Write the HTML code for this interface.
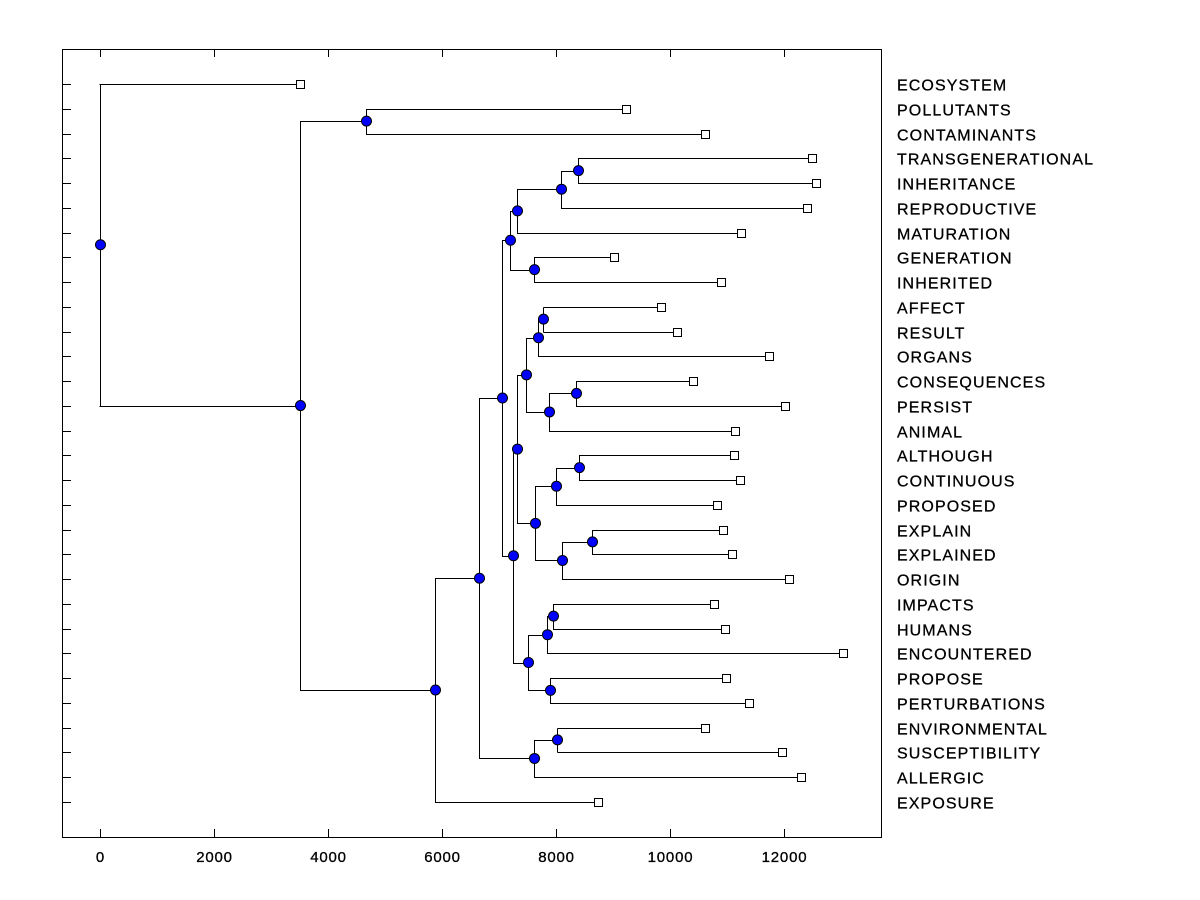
<!DOCTYPE html>
<html><head><meta charset="utf-8"><style>
html,body{margin:0;padding:0;background:#fff;}
svg{display:block;font-family:"Liberation Sans",Arial,sans-serif;}
</style></head><body>
<svg id="chart" width="1200" height="900">
<rect x="62.5" y="49.5" width="819" height="788" fill="none" stroke="#000"/>
<g id="axes"></g><g id="tree"></g>
</svg>
<script>
// Leaf names (top to bottom) and their heights
const leafNames = ["ECOSYSTEM","POLLUTANTS","CONTAMINANTS","TRANSGENERATIONAL","INHERITANCE","REPRODUCTIVE","MATURATION","GENERATION","INHERITED","AFFECT","RESULT","ORGANS","CONSEQUENCES","PERSIST","ANIMAL","ALTHOUGH","CONTINUOUS","PROPOSED","EXPLAIN","EXPLAINED","ORIGIN","IMPACTS","HUMANS","ENCOUNTERED","PROPOSE","PERTURBATIONS","ENVIRONMENTAL","SUSCEPTIBILITY","ALLERGIC","EXPOSURE"];
const leafHeights = [3518,9237,10623,12500,12570,12412,11254,9026,10904,9851,10132,11746,10412,12026,11149,11132,11237,10833,10947,11088,12096,10781,10974,13044,10991,11395,10623,11974,12307,8746];
// Merge tree: [height, left, right]; strings = leaf index
const tree = [0, "0",
 [3518,
  [4675,"1","2"],
  [5886,
   [6658,
    [7061,
     [7202,
      [7325,[8096,[8395,"3","4"],"5"],"6"],
      [7623,"7","8"]],
     [7254,
      [7325,
       [7482,[7693,[7789,"9","10"],"11"],[7886,[8360,"12","13"],"14"]],
       [7640,[8009,[8412,"15","16"],"17"],[8114,[8640,"18","19"],"20"]]],
      [7518,[7851,[7956,"21","22"],"23"],[7904,"24","25"]]]],
    [7623,[8035,"26","27"],"28"]],
   "29"]]];
const xTicks = [0,2000,4000,6000,8000,10000,12000];

const X0=99.5, SC=0.057, Y0=84, DY=24.75;
const xs = v => X0 + v*SC;
const ys = i => Y0 + i*DY;
const NS="http://www.w3.org/2000/svg";
const axes=document.getElementById('axes'), tg=document.getElementById('tree');
function mk(tag,attrs,parent){const e=document.createElementNS(NS,tag);for(const k in attrs)e.setAttribute(k,attrs[k]);parent.appendChild(e);return e;}

xTicks.forEach(t=>{
  const x=Math.round(xs(t))+0.5;
  const b=mk('line',{x1:x,x2:x,y1:837,y2:829,stroke:'#000'},axes);
  
  
  const tp=mk('line',{x1:x,x2:x,y1:49,y2:57,stroke:'#000'},axes);
  
  
  const tx=mk('text',{x:x,y:862,'text-anchor':'middle','font-size':'15','letter-spacing':'0.8','stroke':'#000','stroke-width':'0.3'},axes);
  tx.textContent=t;
  
  
});
leafNames.forEach((n,i)=>{
  const y=Math.round(ys(i))+0.5;
  const tk=mk('line',{x1:62,x2:71,y1:y,y2:y,stroke:'#000'},axes);
  
  
  const tx=mk('text',{x:897,y:y+6,'font-size':'16','letter-spacing':'1.1','stroke':'#000','stroke-width':'0.3'},axes);
  tx.textContent=n;
  
  
});

const nodes=[], leaves=[];
function layout(n){
  if(typeof n==="string"){const i=+n;const p={x:xs(leafHeights[i]),y:ys(i)};leaves.push(p);return p;}
  const a=layout(n[1]), b=layout(n[2]);
  const x=xs(n[0]), y=(a.y+b.y)/2;
  [a,b].forEach(c=>{
    const h=mk('line',{x1:x,x2:c.x,y1:Math.round(c.y)+0.5,y2:Math.round(c.y)+0.5,stroke:'#000'},tg);
    
    
  });
  const v=mk('line',{x1:Math.round(x)+0.5,x2:Math.round(x)+0.5,y1:Math.round(a.y)+0.5,y2:Math.round(b.y)+0.5,stroke:'#000'},tg);
  
  
  nodes.push({x:Math.round(x)+0.5,y:y});
  return {x:x,y:y};
}
layout(tree);
leaves.forEach(p=>{
  const r=mk('rect',{x:Math.round(p.x)-3.5,y:Math.round(p.y)-3.5,width:8,height:8,fill:'#fff',stroke:'#000'},tg);
  
  
});
nodes.forEach(p=>{
  const c=mk('circle',{cx:p.x,cy:p.y,r:5,fill:'#0000ff',stroke:'#000'},tg);
  
  
});
</script>
</body></html>
